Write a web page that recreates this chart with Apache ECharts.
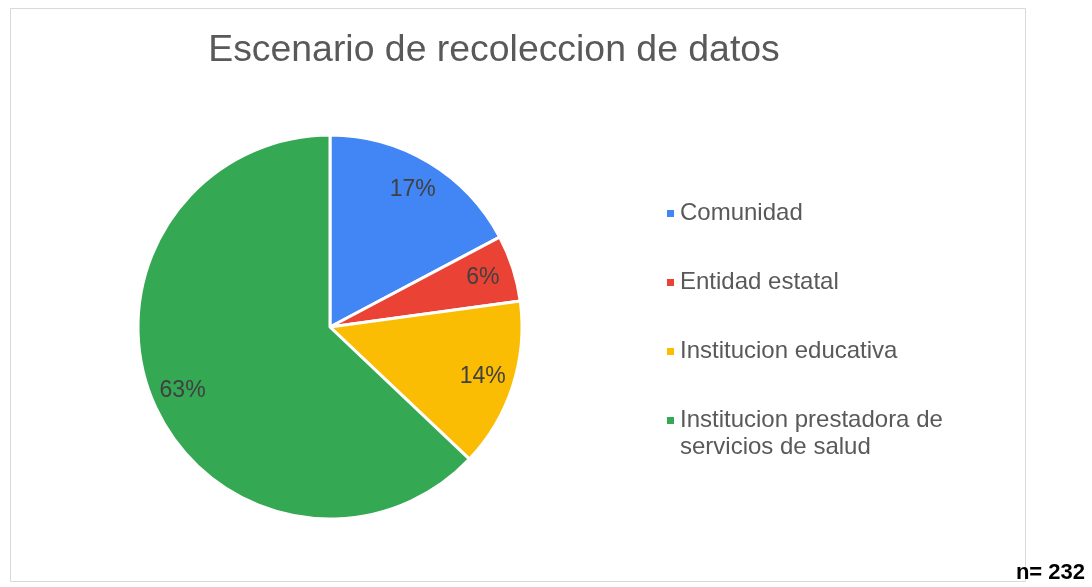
<!DOCTYPE html>
<html>
<head>
<meta charset="utf-8">
<script src="https://cdn.jsdelivr.net/npm/echarts@6/dist/echarts.min.js"></script>
<style>
  html, body { margin: 0; padding: 0; background: #fff; }
  #chart { width: 1092px; height: 587px; }
</style>
</head>
<body>
<div id="chart"></div>
<script>
// data (n = 232)
const categories = ['Comunidad', 'Entidad estatal', 'Institucion educativa', 'Institucion prestadora de servicios de salud'];
const counts = [40, 13, 33, 146];
const colors = ['#4285F4', '#EA4335', '#FBBC04', '#34A853'];
const sampleLabel = 'n= 232';

const pieData = categories.map((name, i) => ({ name: name, value: counts[i] }));
const total = counts.reduce((a, b) => a + b, 0);

const chart = echarts.init(document.getElementById('chart'));

const legendText = {
  color: '#595959',
  fontFamily: 'Liberation Sans, Arial, sans-serif',
  fontSize: 24,
  lineHeight: 27
};

const option = {
  color: colors,
  animation: false,
  title: {
    text: 'Escenario de recoleccion de datos',
    left: 489,
    textAlign: 'center',
    top: 27,
    textStyle: {
      color: '#595959',
      fontFamily: 'Liberation Sans, Arial, sans-serif',
      fontSize: 37.4,
      fontWeight: 'normal'
    }
  },
  legend: [
    {
      orient: 'vertical',
      left: 660,
      top: 195,
      itemWidth: 9,
      itemHeight: 9,
      itemGap: 42,
      icon: 'rect',
      selectedMode: false,
      data: categories.slice(0, 3),
      textStyle: legendText
    },
    {
      // long name wraps; blank first line keeps the marker beside the first line
      orient: 'vertical',
      left: 660,
      top: 375,
      itemWidth: 9,
      itemHeight: 9,
      icon: 'rect',
      selectedMode: false,
      data: categories.slice(3),
      formatter: () => '\nInstitucion prestadora de\nservicios de salud',
      textStyle: legendText
    }
  ],
  graphic: [
    {
      type: 'rect',
      shape: { x: 10.5, y: 8.5, width: 1015, height: 573 },
      style: { fill: 'none', stroke: '#d9d9d9', lineWidth: 1 },
      silent: true
    },
    {
      type: 'text',
      right: 7,
      bottom: 3,
      style: {
        text: sampleLabel,
        fill: '#000',
        font: 'bold 22px Liberation Sans, Arial, sans-serif'
      }
    }
  ],
  series: [
    {
      type: 'pie',
      center: [330, 327],
      radius: [0, 192],
      startAngle: 90,
      clockwise: true,
      data: pieData,
      label: { show: false },
      labelLine: { show: false },
      itemStyle: { borderColor: '#fff', borderWidth: 3 },
      emphasis: { disabled: true }
    },
    {
      // invisible ring only used to put the percentage labels out near the rim
      type: 'pie',
      center: [330, 327],
      radius: [123, 192],
      startAngle: 90,
      clockwise: true,
      silent: true,
      data: pieData,
      itemStyle: { color: 'transparent', borderWidth: 0 },
      label: {
        show: true,
        position: 'inside',
        formatter: p => Math.round(p.value / total * 100) + '%',
        color: '#404040',
        fontFamily: 'Liberation Sans, Arial, sans-serif',
        fontSize: 23
      },
      labelLine: { show: false },
      emphasis: { disabled: true }
    }
  ]
};

chart.setOption(option);
</script>
</body>
</html>
